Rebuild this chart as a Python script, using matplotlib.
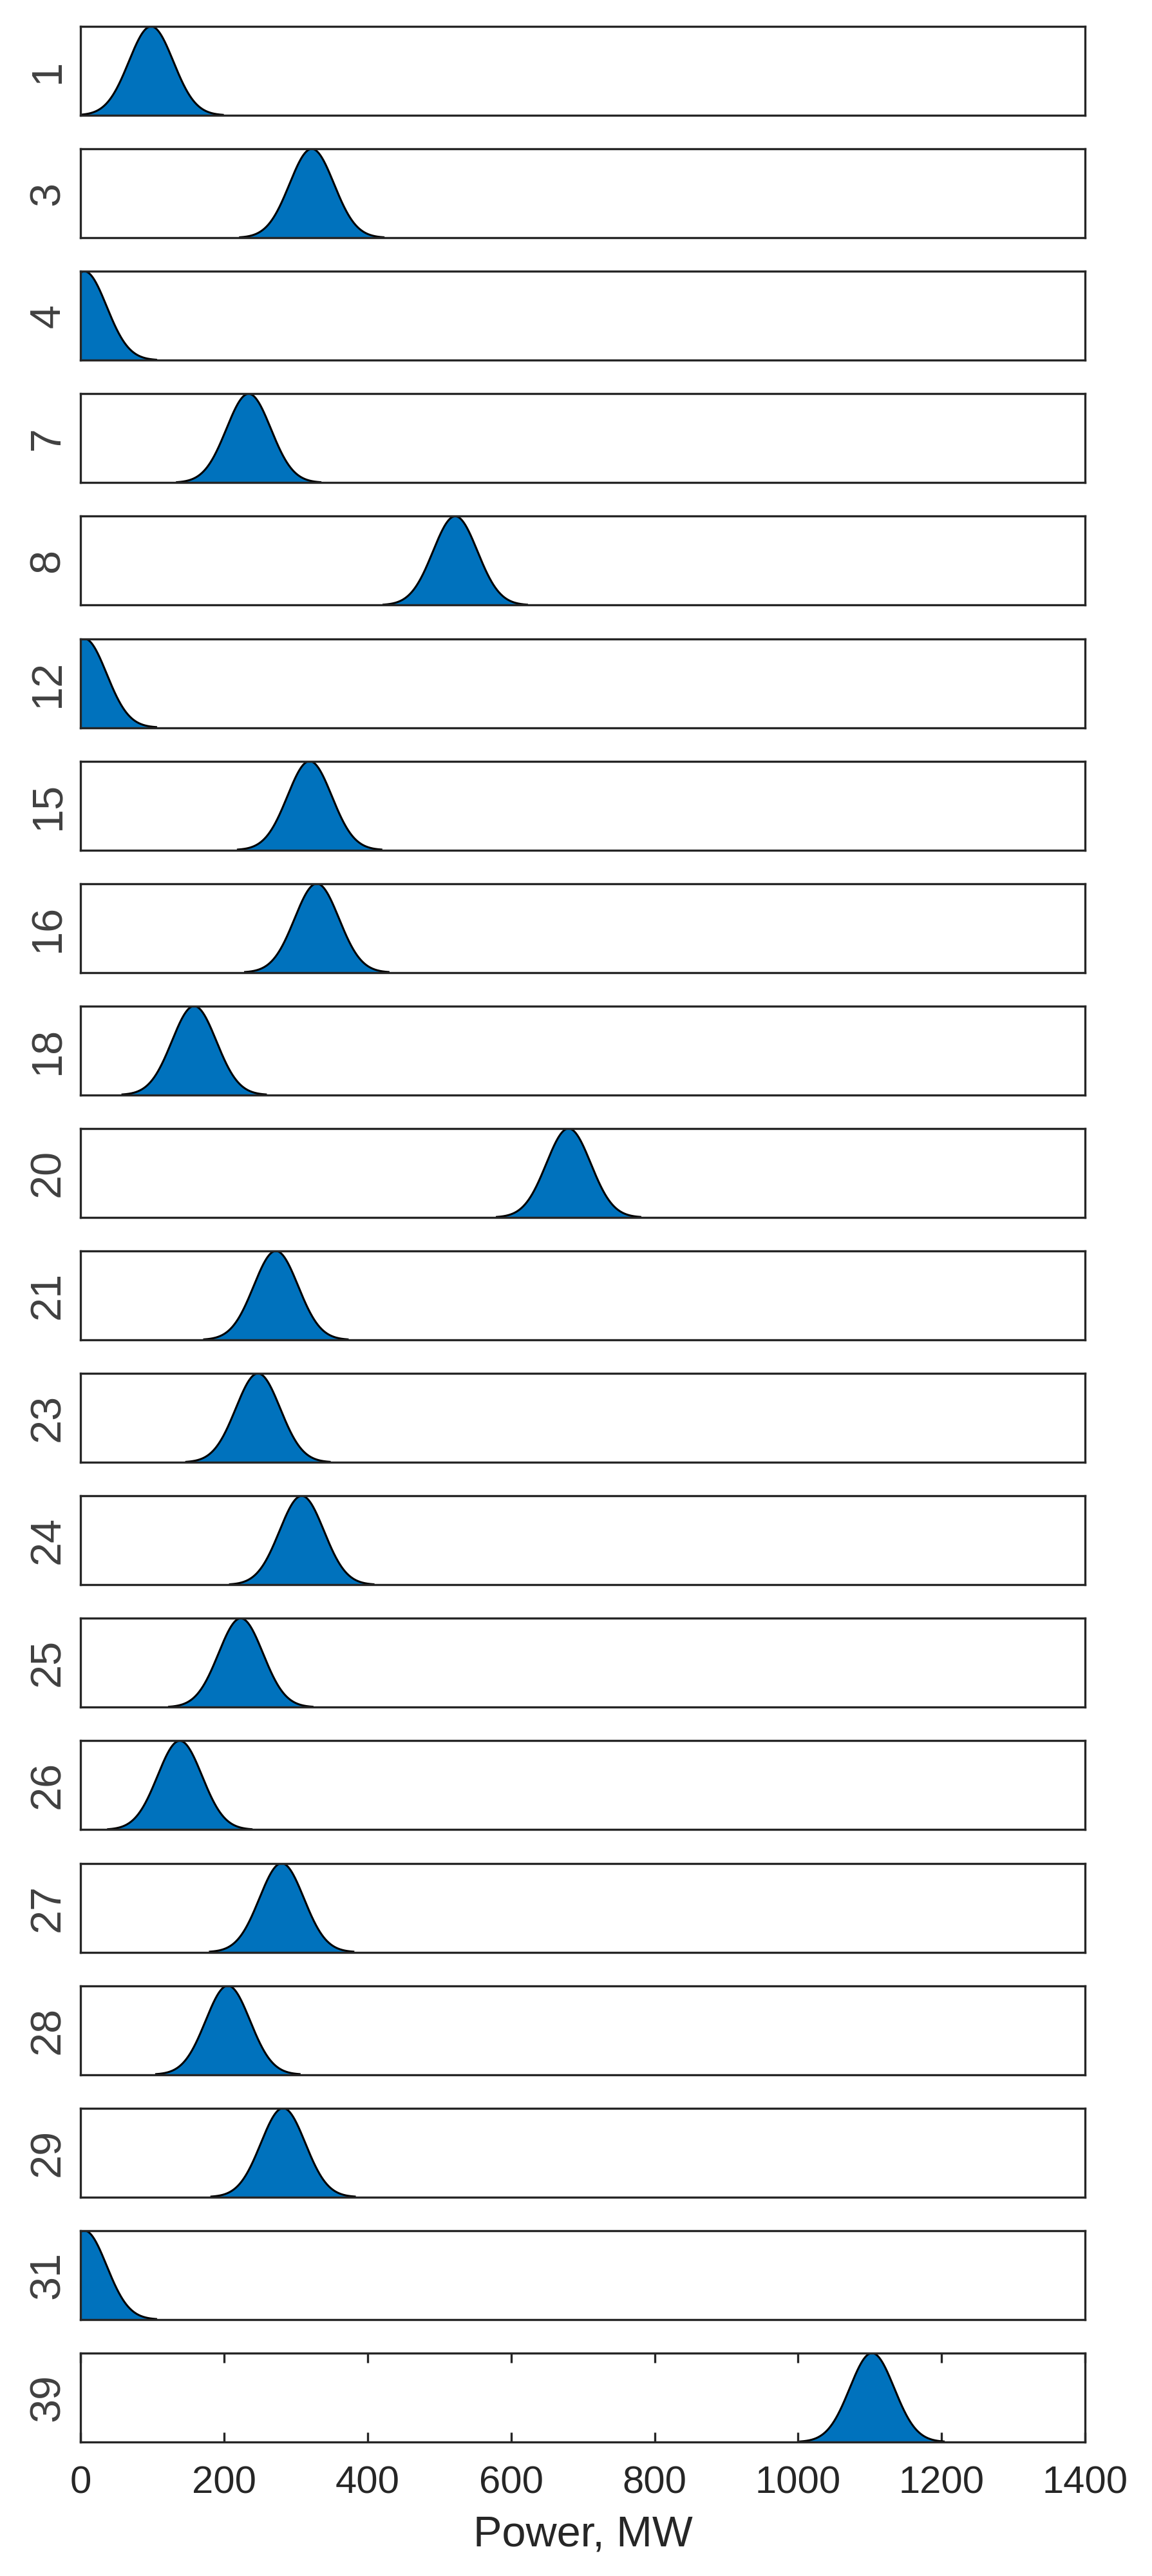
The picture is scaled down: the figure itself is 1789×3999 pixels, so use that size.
import numpy as np
import matplotlib.pyplot as plt

plt.rcParams['font.family'] = ['Liberation Sans', 'DejaVu Sans']

# generator units and their output distributions (MW)
units = ['1', '3', '4', '7', '8', '12', '15', '16', '18', '20',
         '21', '23', '24', '25', '26', '27', '28', '29', '31', '39']
mean_mw = [98, 322, 5, 234, 522, 5, 319, 329, 158, 680,
           272, 247, 308, 223, 138, 280, 205, 282, 5, 1103]
sigma_mw = [31, 31, 31, 31, 31, 31, 31, 31, 31, 31,
            31, 31, 31, 31, 31, 31, 31, 31, 31, 31]
span_mw = 100  # half-width of the plotted support
xticks = [0, 200, 400, 600, 800, 1000, 1200, 1400]

W, H = 1790, 3999
fig = plt.figure(figsize=(W / 100, H / 100), dpi=100)

left, right = 125.5, 1685
top0, step, h = 41, 190.1, 138
edge = '#262626'

n = len(units)
for k in range(n):
    top = top0 + k * step
    ax = fig.add_axes([left / W, 1 - (top + h) / H, (right - left) / W, h / H])
    mu, sd = mean_mw[k], sigma_mw[k]
    x = np.linspace(mu - span_mw, mu + span_mw, 400)
    y = np.exp(-0.5 * ((x - mu) / sd) ** 2) / (sd * np.sqrt(2 * np.pi))
    ax.fill_between(x, 0, y, color='#0072BD', lw=0)
    ax.plot(x, y, color='black', lw=2.2)
    ax.set_xlim(0, 1400)
    ax.set_ylim(0, y[x >= 0].max())
    for s in ax.spines.values():
        s.set_linewidth(2.4)
        s.set_color(edge)
    ax.set_yticks([])
    ax.set_ylabel(units[k], fontsize=48, color='#404040', labelpad=14)
    if k == n - 1:
        ax.set_xticks(xticks)
        ax.tick_params(axis='x', direction='in', length=11, width=2.4,
                       color=edge, labelcolor=edge, labelsize=43, pad=26,
                       top=True)
        ax.set_xlabel('Power, MW', fontsize=48, color=edge, labelpad=16)
    else:
        ax.set_xticks([])

fig.savefig('out.png', dpi=100)
